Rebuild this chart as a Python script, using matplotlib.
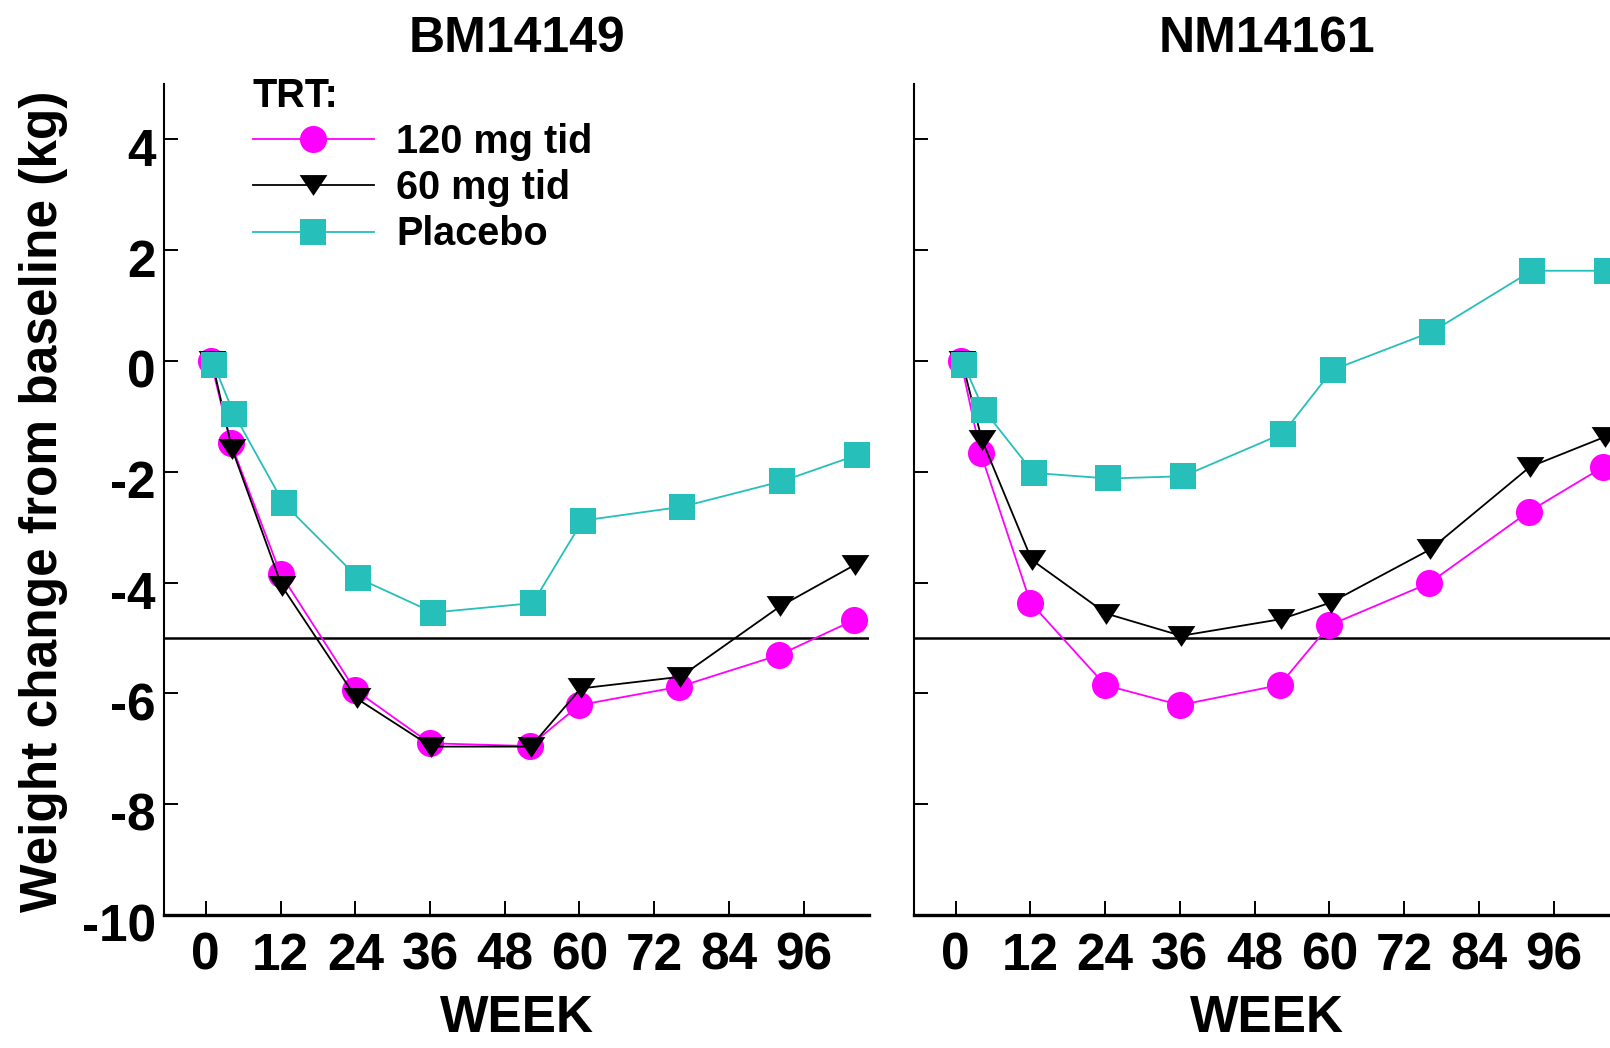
import matplotlib
matplotlib.use('Agg')
import matplotlib.pyplot as plt
from matplotlib.transforms import ScaledTranslation

# visit weeks (first visit plotted a bit right of 0, as in the original)
weeks = [0.8, 4, 12, 24, 36, 52, 60, 76, 92, 104]

# BM14149 - weight change from baseline (kg)
bm_120 = [0.0, -1.48, -3.84, -5.94, -6.90, -6.95, -6.21, -5.88, -5.31, -4.68]
bm_60 = [0.0, -1.58, -4.06, -6.09, -6.96, -6.96, -5.91, -5.70, -4.43, -3.68]
bm_pbo = [-0.07, -0.95, -2.57, -3.92, -4.54, -4.37, -2.88, -2.63, -2.17, -1.70]

# NM14161
nm_120 = [0.0, -1.66, -4.36, -5.85, -6.21, -5.85, -4.77, -4.01, -2.72, -1.91]
nm_60 = [0.0, -1.42, -3.59, -4.56, -4.96, -4.66, -4.36, -3.40, -1.91, -1.37]
nm_pbo = [-0.07, -0.88, -2.02, -2.12, -2.08, -1.31, -0.16, 0.53, 1.63, 1.63]

studies = ['BM14149', 'NM14161']
trt_labels = ['120 mg tid', '60 mg tid', 'Placebo']
ref_line = -5.0

xticks = [0, 12, 24, 36, 48, 60, 72, 84, 96]
yticks = [-10, -8, -6, -4, -2, 0, 2, 4]

plt.rcParams['axes.unicode_minus'] = False
plt.rcParams['font.family'] = ['Liberation Sans', 'DejaVu Sans']

# triangle wider than tall
tri = [(-1, 0.75), (1, 0.75), (0, -0.75), (-1, 0.75)]
styles = [
    dict(color='#FF00FF', marker='o', markersize=19.5, lw=1.3),
    dict(color='black', marker=tri, markersize=20, lw=1.3),
    dict(color='#26BFBA', marker='s', markersize=18.5, lw=1.3),
]
dodge = [0.0, 0.2, 0.5]

fig = plt.figure(figsize=(16.1, 10.48), dpi=100)
ax1 = fig.add_axes([0.1019, 0.1269, 0.4379, 0.7929])
ax2 = fig.add_axes([0.5677, 0.1269, 0.4379, 0.7929])

series = [[bm_120, bm_60, bm_pbo], [nm_120, nm_60, nm_pbo]]
handles = []
down = ScaledTranslation(0, -5.5 / 72, fig.dpi_scale_trans)
for ax, title, data in zip([ax1, ax2], studies, series):
    ax.axhline(ref_line, color='black', lw=1.8, zorder=1)
    for vals, st, dx, lab in zip(data, styles, dodge, trt_labels):
        ln, = ax.plot([w + dx for w in weeks], vals, markeredgewidth=0,
                      label=lab, zorder=3, **st)
        if ax is ax1:
            handles.append(ln)
    ax.set_xlim(-6.7, 106.5)
    ax.set_ylim(-10, 5)
    ax.set_xticks(xticks)
    ax.set_yticks(yticks)
    ax.spines['top'].set_visible(False)
    ax.spines['right'].set_visible(False)
    ax.spines['left'].set_linewidth(1.5)
    ax.spines['bottom'].set_linewidth(2.4)
    ax.tick_params(direction='in', length=10, width=1.4, labelsize=37)
    ax.tick_params(axis='x', pad=12)
    ax.tick_params(axis='y', pad=6)
    for t in ax.get_xticklabels() + ax.get_yticklabels():
        t.set_fontweight('bold')
    for t in ax.get_yticklabels():
        t.set_transform(t.get_transform() + down)
    cx = ax.get_position().x0 + ax.get_position().width / 2
    fig.text(cx, 0.963, title, ha='center', va='center', fontsize=36,
             fontweight='bold')
    fig.text(cx, 0.028, 'WEEK', ha='center', va='center', fontsize=37,
             fontweight='bold')

ax2.set_yticklabels([])

fig.text(0.027, 0.522, 'Weight change from baseline (kg)', rotation=90,
         ha='center', va='center', fontsize=37, fontweight='bold')

leg = ax1.legend(handles, trt_labels, title='TRT:', alignment='left',
                 loc='upper left', bbox_to_anchor=(0.1569, 0.927),
                 bbox_transform=fig.transFigure, frameon=False, borderpad=0,
                 borderaxespad=0, handlelength=3.06, handletextpad=0.57,
                 labelspacing=0.21,
                 prop={'size': 28.5, 'weight': 'bold'},
                 title_fontproperties={'size': 28.5, 'weight': 'bold'})

fig.savefig('out.png', dpi=100)
